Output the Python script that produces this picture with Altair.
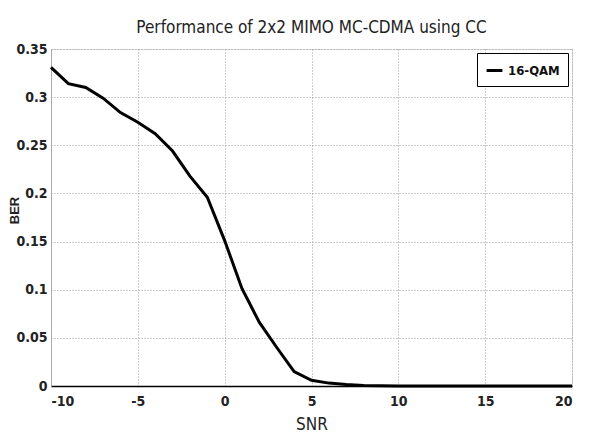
import altair as alt
import pandas as pd

snr = [-10, -9, -8, -7, -6, -5, -4, -3, -2, -1, 0, 1, 2, 3, 4, 5, 6, 7, 8, 9, 10,
       11, 12, 13, 14, 15, 16, 17, 18, 19, 20]
ber = [0.331, 0.314, 0.310, 0.299, 0.284, 0.274, 0.262, 0.244, 0.218, 0.196,
       0.151, 0.101, 0.066, 0.040, 0.015, 0.006, 0.003, 0.0015, 0.0005, 0.0002,
       0.0001, 0, 0, 0, 0, 0, 0, 0, 0, 0, 0]
series = ["16-QAM"] * len(snr)

x_ticks = [-10, -5, 0, 5, 10, 15, 20]
y_ticks = [0, 0.05, 0.1, 0.15, 0.2, 0.25, 0.3, 0.35]

df = pd.DataFrame({"SNR": snr, "BER": ber, "series": series})

FONT = "DejaVu Sans Condensed, Roboto, sans-serif"

line = alt.Chart(df).mark_line(strokeWidth=3, color="black").encode(
    x=alt.X("SNR:Q", scale=alt.Scale(domain=[-10, 20], nice=False),
            axis=alt.Axis(values=x_ticks, title="SNR", grid=True,
                          labelExpr="'' + datum.value",
                          gridDash=[1, 2], gridColor="#9a9a9a",
                          domainColor="black", domainWidth=1.5,
                          ticks=False,
                          labelFont=FONT, labelFontSize=14, labelFontWeight="bold",
                          labelColor="#222222", labelPadding=8,
                          titleFont=FONT, titleFontSize=17, titleFontWeight="normal",
                          titleColor="#222222", titlePadding=8)),
    y=alt.Y("BER:Q", scale=alt.Scale(domain=[0, 0.35], nice=False),
            axis=alt.Axis(values=y_ticks, title="BER", format=".2~f", grid=True,
                          gridDash=[1, 2], gridColor="#9a9a9a",
                          domainColor="#aaaaaa", ticks=False,
                          labelFont=FONT, labelFontSize=14, labelFontWeight="bold",
                          labelColor="#222222", labelPadding=4,
                          titleFont="Liberation Sans", titleFontSize=13,
                          titleFontWeight="bold", titleColor="#222222",
                          titleX=-30, titleY=161)),
    color=alt.Color("series:N", scale=alt.Scale(range=["black"]),
                    legend=alt.Legend(title=None, orient="top-right", offset=4,
                                      strokeColor="black", fillColor="white",
                                      padding=8, symbolType="stroke",
                                      symbolStrokeWidth=3, symbolSize=250,
                                      labelFont=FONT, labelFontSize=13,
                                      labelFontWeight="bold", labelColor="#111111")),
)

chart = line.properties(
    width=521, height=337,
    title=alt.Title("Performance of 2x2 MIMO MC-CDMA using CC", font=FONT,
                    fontSize=17, fontWeight="normal", color="#222222",
                    anchor="middle", offset=5),
    autosize=alt.AutoSizeParams(type="none"),
    padding={"left": 43, "top": 41, "right": 13, "bottom": 50},
).configure_view(stroke="#bbbbbb", strokeWidth=1).configure(background="white")

chart.save("out.html", embed_options={"renderer": "svg", "actions": False})
